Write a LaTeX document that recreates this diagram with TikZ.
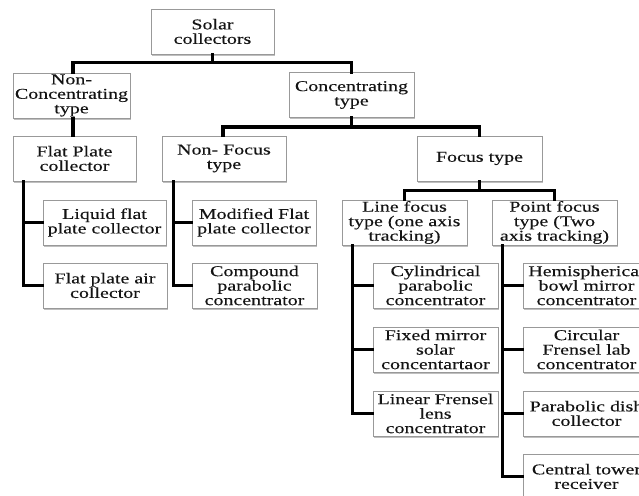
\documentclass[tikz,border=0pt]{standalone}
\usepackage{fontspec}
\setmainfont{Liberation Serif}[FakeStretch=1.33,FakeBold=0.2]
\usetikzlibrary{shadows}
\begin{document}
\begin{tikzpicture}[x=1pt,y=-1pt,
  box/.style={draw=black!40, line width=0.9pt, fill=white, align=center, inner sep=0pt,
    minimum width=#1, minimum height=45pt, text=black!92,
    font=\fontsize{15}{14.5}\selectfont,
    drop shadow={shadow xshift=1.2pt, shadow yshift=-1.8pt, fill=black!45, opacity=0.55}},
  box/.default=125pt,
  link/.style={draw=black, line width=3.2pt, line join=miter, line cap=rect}]
\useasboundingbox (0,0) rectangle (639,495);
\clip (0,0) rectangle (639,495);
\fill[white] (0,0) rectangle (639,495);

% level 0-2
\node[box=123pt] (root) at (212.5,31.5) {Solar\\collectors};
\node[box=117pt] (noncon) at (71.5,95.5) {Non-\\Concentrating\\type};
\node[box=125pt] (con) at (351.5,95) {Concentrating\\type};
\node[box=123pt] (flatplate) at (74.5,158.5) {Flat Plate\\collector};
\node[box=124pt] (nonfocus) at (224,158.5) {Non- Focus\\type};
\node[box=125pt] (focus) at (479.5,158.5) {Focus type};

% flat plate children
\node[box=123pt] (liquid) at (104.5,222.5) {Liquid flat\\plate collector};
\node[box=124pt] (airflat) at (105,285.5) {Flat plate air\\collector};

% non-focus children
\node[box=124pt] (modified) at (254,222.5) {Modified Flat\\plate collector};
\node[box=125pt] (compound) at (254.5,285.5) {Compound\\parabolic\\concentrator};

% focus children
\node[box=125pt] (linefocus) at (404.5,222.5) {Line focus\\type (one axis\\tracking)};
\node[box=125pt] (pointfocus) at (554.5,222.5) {Point focus\\type (Two\\axis tracking)};

% line focus children
\node[box=125pt] (cyl) at (435.5,285.5) {Cylindrical\\parabolic\\concentrator};
\node[box=125pt] (fixed) at (435.5,349.5) {Fixed mirror\\solar\\concentartaor};
\node[box=125pt] (linear) at (435.5,413.5) {Linear Frensel\\lens\\concentrator};

% point focus children
\node[box=127pt] (hemi) at (586.5,285.5) {Hemispherical\\bowl mirror\\concentrator};
\node[box=127pt] (circ) at (586.5,349.5) {Circular\\Frensel lab\\concentrator};
\node[box=127pt] (parab) at (586.5,413.5) {Parabolic dish\\collector};
\node[box=127pt] (central) at (586.5,476.5) {Central tower\\receiver};

% connectors
\draw[link] (root.south) -- ++(0,8) -| ([xshift=1.5pt]noncon.north);
\draw[link] (root.south) -- ++(0,8) -| (con.north);
\draw[link] ([xshift=1.5pt]noncon.south) -- ([xshift=-1.5pt]flatplate.north);
\draw[link] (con.south) -- ++(0,9) -| ([xshift=-1pt]nonfocus.north);
\draw[link] (con.south) -- ++(0,9) -| (focus.north);
\draw[link] (focus.south) -- ++(0,9) -| (linefocus.north);
\draw[link] (focus.south) -- ++(0,9) -| (pointfocus.north);

\draw[link] ([xshift=11pt]flatplate.south west) |- (airflat.west);
\draw[link] ([xshift=11pt]flatplate.south west) |- (liquid.west);

\draw[link] ([xshift=12pt]nonfocus.south west) |- (compound.west);
\draw[link] ([xshift=12pt]nonfocus.south west) |- (modified.west);

\draw[link] ([xshift=11pt]linefocus.south west) |- (linear.west);
\draw[link] ([xshift=11pt]linefocus.south west) |- (fixed.west);
\draw[link] ([xshift=11pt]linefocus.south west) |- (cyl.west);

\draw[link] ([xshift=11pt]pointfocus.south west) |- (central.west);
\draw[link] ([xshift=11pt]pointfocus.south west) |- (parab.west);
\draw[link] ([xshift=11pt]pointfocus.south west) |- (circ.west);
\draw[link] ([xshift=11pt]pointfocus.south west) |- (hemi.west);
\end{tikzpicture}
\end{document}
